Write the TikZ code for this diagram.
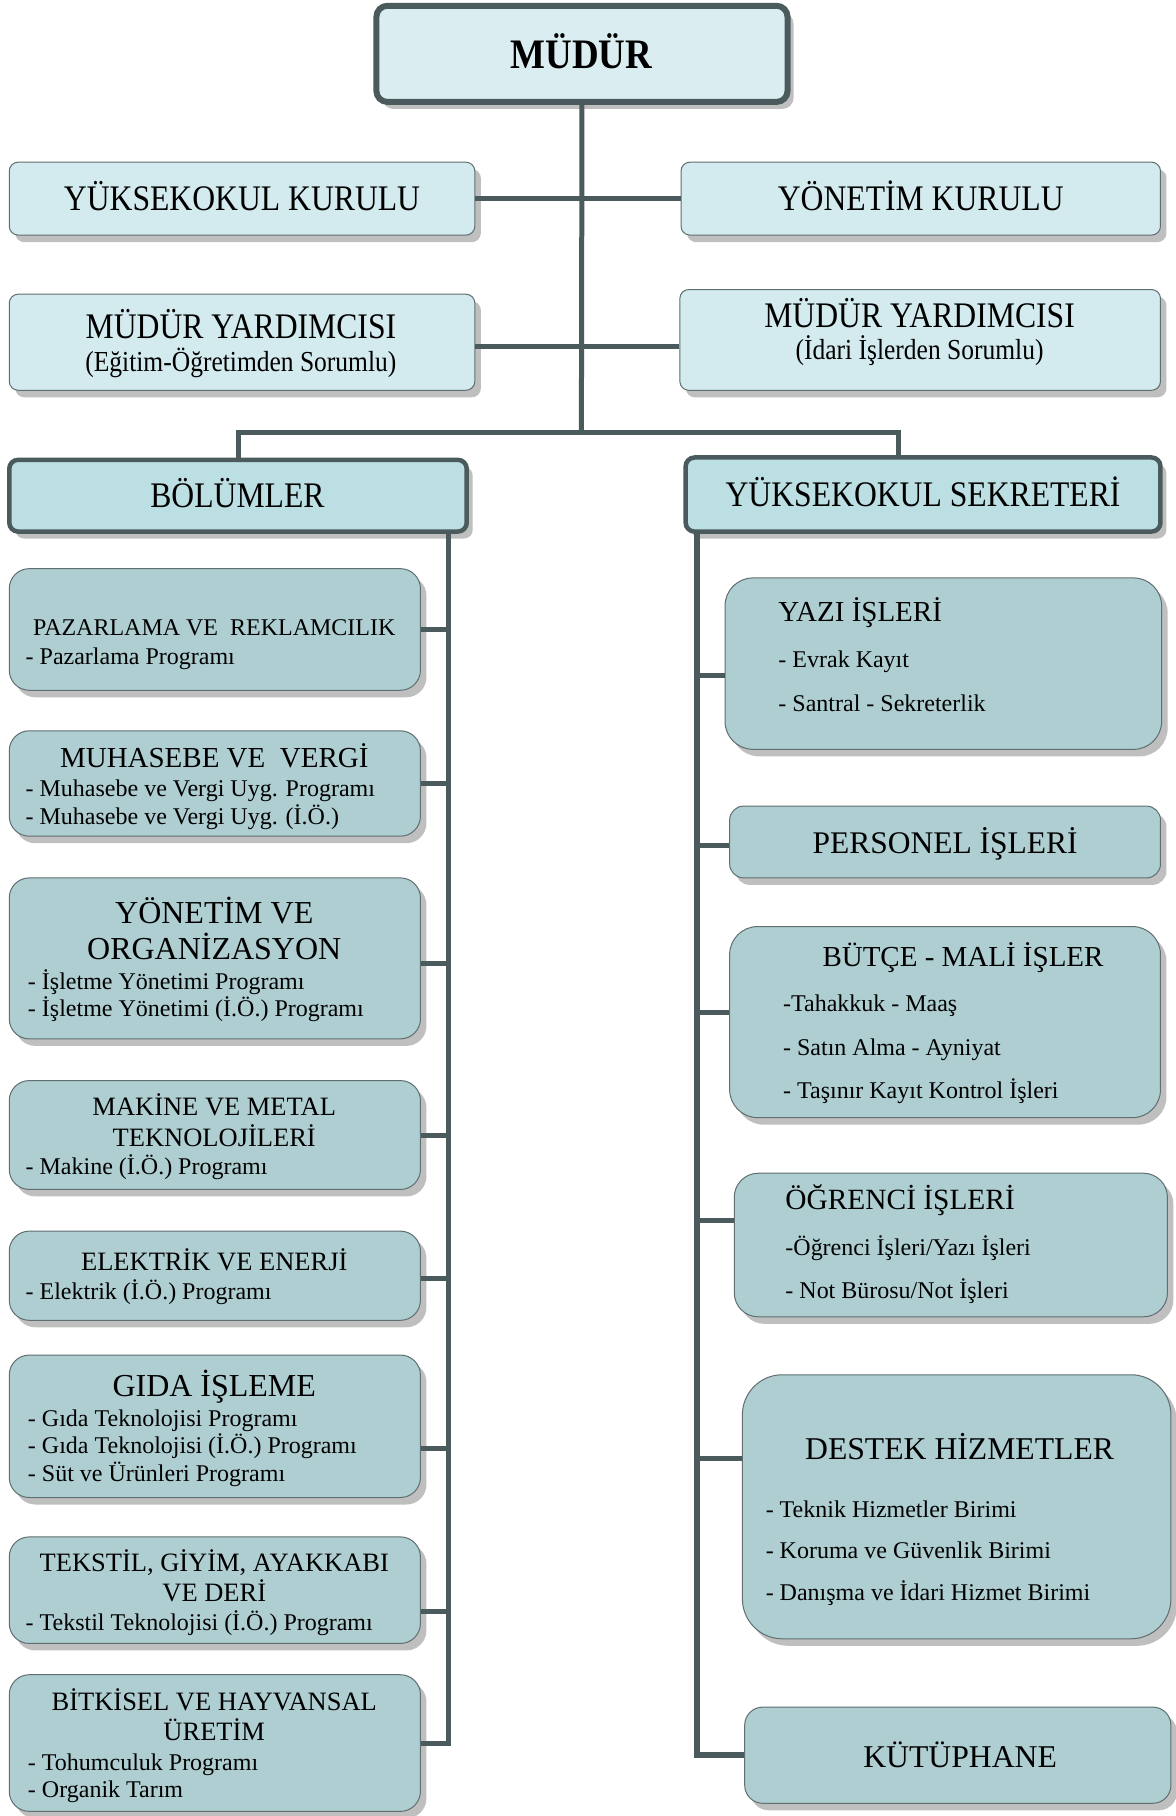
\documentclass[tikz,border=0pt]{standalone}
\usepackage{fontspec}
\setmainfont{Liberation Serif}
\newfontfamily\condf[FakeStretch=0.88]{Liberation Serif}
\usetikzlibrary{fit,shadows}
\definecolor{topfill}{HTML}{D3EBEE}
\definecolor{midfill}{HTML}{BCDFE3}
\definecolor{lowfill}{HTML}{AECED1}
\definecolor{dark}{HTML}{4B5A5C}
\definecolor{edge}{HTML}{5F6E70}
\newcommand\setfs[1]{\fontsize{#1}{#1}\selectfont}
\tikzset{
  shad/.style={drop shadow={shadow xshift=6pt, shadow yshift=-7pt, fill=black!25, opacity=1}},
  topbox/.style={shad, rounded corners=9pt, draw=edge, line width=1pt, fill=topfill, inner sep=0pt},
  mainbox/.style={shad, rounded corners=11pt, draw=dark, line width=6pt, fill=topfill!85!white, inner sep=0pt},
  headbox/.style={shad, rounded corners=9pt, draw=dark, line width=4.5pt, fill=midfill, inner sep=0pt},
  unitbox/.style={shad, rounded corners=20pt, draw=edge, line width=1pt, fill=lowfill, inner sep=0pt},
  link/.style={draw=dark, line width=5pt},
  spine/.style={draw=dark, line width=6pt},
  txt/.style={inner sep=0pt, anchor=base},
  ltxt/.style={inner sep=0pt, anchor=base west},
  fs/.style={font=\setfs{#1}, yshift=-0.34*#1pt},
  cfs/.style={font=\condf\setfs{#1}, yshift=-0.34*#1pt},
}
\begin{document}
\begin{tikzpicture}[x=1.1586pt, y=-1.1586pt]
\useasboundingbox (0,0) rectangle (1015,1568);
\fill[white] (0,0) rectangle (1015,1568);

% ---------- boxes ----------
\node[mainbox, fit={(325,5) (680,88)}] (mud) {};
\node[topbox, fit={(8,140) (410,203)}] (yk) {};
\node[topbox, fit={(588,140) (1002,203)}] (yon) {};
\node[topbox, fit={(8,254) (410,337)}] (myl) {};
\node[topbox, fit={(587,250) (1002,337)}] (myr) {};
\node[headbox, fit={(8,397) (403,459)}] (bol) {};
\node[headbox, fit={(592,395) (1002,459)}] (sek) {};

\node[unitbox, fit={(8,491) (363,596)}] (paz) {};
\node[unitbox, fit={(8,631) (363,722)}] (muh) {};
\node[unitbox, fit={(8,758) (363,897)}] (yo) {};
\node[unitbox, fit={(8,933) (363,1027)}] (mak) {};
\node[unitbox, fit={(8,1063) (363,1140)}] (elk) {};
\node[unitbox, fit={(8,1170) (363,1293)}] (gida) {};
\node[unitbox, fit={(8,1327) (363,1419)}] (tek) {};
\node[unitbox, fit={(8,1446) (363,1564)}] (bit) {};

\node[unitbox, rounded corners=28pt, fit={(626,499) (1003,647)}] (yazi) {};
\node[unitbox, rounded corners=14pt, fit={(630,696) (1002,758)}] (pers) {};
\node[unitbox, rounded corners=28pt, fit={(630,800) (1002,965)}] (butce) {};
\node[unitbox, rounded corners=24pt, fit={(634,1013) (1008,1137)}] (ogr) {};
\node[unitbox, rounded corners=40pt, fit={(641,1187) (1011,1415)}] (destek) {};
\node[unitbox, rounded corners=18pt, fit={(643,1474) (1011,1557)}] (kut) {};

% ---------- connectors ----------
\coordinate (bus) at (502,373);
\coordinate (sektop) at (776,395);
\coordinate (spL) at (387,459);
\coordinate (spR) at (602,459);
\draw[link] (mud.south) -- (bus);
\draw[link] (yk.east) -- (yon.west);
\draw[link] (myl.east) ++(0,4) coordinate (m1) -- (m1 -| myr.west);
\draw[link] (bol.north) |- (bus) -| (sektop);

\draw[link] (spL) -- (spL |- bit.east) -- (bit.east);
\draw[link] (paz.east) -- (paz.east -| spL);
\draw[link] (muh.east) -- (muh.east -| spL);
\draw[link] (yo.east) ++(0,4) coordinate (l3) -- (l3 -| spL);
\draw[link] (mak.east) -- (mak.east -| spL);
\draw[link] (elk.east) ++(0,2) coordinate (l5) -- (l5 -| spL);
\draw[link] (gida.east) ++(0,19.5) coordinate (l6) -- (l6 -| spL);
\draw[link] (tek.east) ++(0,18) coordinate (l7) -- (l7 -| spL);

\draw[spine] (spR) -- (spR |- kut.west) -- (kut.west);
\draw[link] (yazi.west) ++(0,10) coordinate (r1) -- (r1 -| spR);
\draw[link] (pers.west) ++(0,3) coordinate (r2) -- (r2 -| spR);
\draw[link] (butce.west) ++(0,-8.5) coordinate (r3) -- (r3 -| spR);
\draw[link] (ogr.west) ++(0,-21) coordinate (r4) -- (r4 -| spR);
\draw[link] (destek.west) ++(0,-42) coordinate (r5) -- (r5 -| spR);

% ---------- texts ----------
\node[txt, cfs=42, font=\condf\bfseries\setfs{42}] (tmud) at (502,47) {MÜDÜR};
\node[txt, cfs=36] (tyk) at (209,171) {YÜKSEKOKUL KURULU};
\node[txt, cfs=36] (tyon) at (795,171) {YÖNETİM KURULU};
\node[txt, cfs=36] (tmyl1) at (208,282) {MÜDÜR YARDIMCISI};
\node[txt, cfs=29] (tmyl2) at (208,312) {(Eğitim-Öğretimden Sorumlu)};
\node[txt, cfs=36] (tmyr1) at (794,272) {MÜDÜR YARDIMCISI};
\node[txt, cfs=29] (tmyr2) at (794,302) {(İdari İşlerden Sorumlu)};
\node[txt, cfs=36] (tbol) at (205,428) {BÖLÜMLER};
\node[txt, cfs=36] (tsek) at (797,427) {YÜKSEKOKUL SEKRETERİ};

% left units
\node[txt, fs=24] (tpaz) at (185,542) {PAZARLAMA VE\ \ REKLAMCILIK};
\node[ltxt, fs=24] (tpaz1) at (22,567) {- Pazarlama Programı};

\node[txt, fs=29] (tmuh) at (185,654) {MUHASEBE VE\ \ VERGİ};
\node[ltxt, fs=24] (tmuh1) at (22,681) {- Muhasebe ve Vergi Uyg. Programı};
\node[ltxt, fs=24] (tmuh2) at (22,705) {- Muhasebe ve Vergi Uyg. (İ.Ö.)};

\node[txt, fs=32] (tyo1) at (185,788) {YÖNETİM VE};
\node[txt, fs=32] (tyo2) at (185,819) {ORGANİZASYON};
\node[ltxt, fs=24] (tyo3) at (24,847) {- İşletme Yönetimi Programı};
\node[ltxt, fs=24] (tyo4) at (24,871) {- İşletme Yönetimi (İ.Ö.) Programı};

\node[txt, fs=26.5] (tmak1) at (185,955) {MAKİNE VE METAL};
\node[txt, fs=26.5] (tmak2) at (185,982) {TEKNOLOJİLERİ};
\node[ltxt, fs=24] (tmak3) at (22,1007) {- Makine (İ.Ö.) Programı};

\node[txt, fs=26.5] (telk1) at (185,1089) {ELEKTRİK VE ENERJİ};
\node[ltxt, fs=24] (telk2) at (22,1115) {- Elektrik (İ.Ö.) Programı};

\node[txt, fs=32] (tgida) at (185,1196) {GIDA İŞLEME};
\node[ltxt, fs=24] (tgida1) at (24,1225) {- Gıda Teknolojisi Programı};
\node[ltxt, fs=24] (tgida2) at (24,1248) {- Gıda Teknolojisi (İ.Ö.) Programı};
\node[ltxt, fs=24] (tgida3) at (24,1272) {- Süt ve Ürünleri Programı};

\node[txt, fs=26.5] (ttek1) at (185,1349) {TEKSTİL, GİYİM, AYAKKABI};
\node[txt, fs=26.5] (ttek2) at (185,1375) {VE DERİ};
\node[ltxt, fs=24] (ttek3) at (22,1401) {- Tekstil Teknolojisi (İ.Ö.) Programı};

\node[txt, fs=26.5] (tbit1) at (185,1469) {BİTKİSEL VE HAYVANSAL};
\node[txt, fs=26.5] (tbit2) at (185,1495) {ÜRETİM};
\node[ltxt, fs=24] (tbit3) at (24,1522) {- Tohumculuk Programı};
\node[ltxt, fs=24] (tbit4) at (24,1545) {- Organik Tarım};

% right units
\node[ltxt, fs=29] (tyazi) at (672,528) {YAZI İŞLERİ};
\node[ltxt, fs=24] (tyazi1) at (672,569) {- Evrak Kayıt};
\node[ltxt, fs=24] (tyazi2) at (672,607) {- Santral - Sekreterlik};

\node[txt, fs=31.5] (tpers) at (816,728) {PERSONEL İŞLERİ};

\node[ltxt, fs=29] (tbut) at (710,826) {BÜTÇE - MALİ İŞLER};
\node[ltxt, fs=24] (tbut1) at (676,866) {-Tahakkuk - Maaş};
\node[ltxt, fs=24] (tbut2) at (676,904) {- Satın Alma - Ayniyat};
\node[ltxt, fs=24] (tbut3) at (676,941) {- Taşınır Kayıt Kontrol İşleri};

\node[ltxt, fs=29.4] (togr) at (678,1036) {ÖĞRENCİ İŞLERİ};
\node[ltxt, fs=24] (togr1) at (678,1077) {-Öğrenci İşleri/Yazı İşleri};
\node[ltxt, fs=24] (togr2) at (678,1114) {- Not Bürosu/Not İşleri};

\node[ltxt, fs=31.7] (tdes) at (695,1251) {DESTEK HİZMETLER};
\node[ltxt, fs=24] (tdes1) at (661,1303) {- Teknik Hizmetler Birimi};
\node[ltxt, fs=24] (tdes2) at (661,1339) {- Koruma ve Güvenlik Birimi};
\node[ltxt, fs=24] (tdes3) at (661,1375) {- Danışma ve İdari Hizmet Birimi};

\node[txt, fs=31.7] (tkut) at (829,1517) {KÜTÜPHANE};
\end{tikzpicture}
\end{document}
